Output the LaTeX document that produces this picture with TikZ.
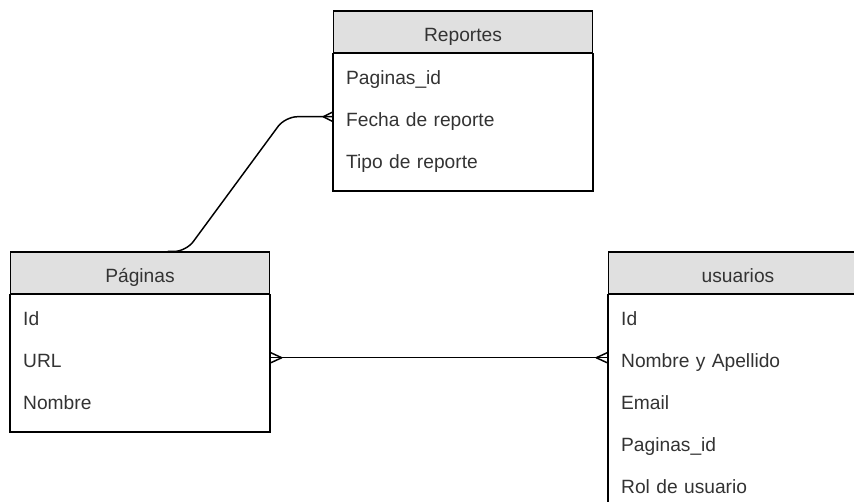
\documentclass[tikz,border=0pt]{standalone}
\usepackage{fontspec}
\setmainfont{Liberation Sans}
\usetikzlibrary{positioning,calc}

\definecolor{hdrgray}{RGB}{224,224,224}
\definecolor{txtgray}{RGB}{51,51,51}

\tikzset{
  tblfont/.style={font=\fontsize{14.4}{17}\selectfont, text=txtgray},
  tblhead/.style={tblfont, draw, fill=hdrgray, line width=1.1pt,
    minimum width=194.25pt, minimum height=31.2pt, inner sep=0pt,
    text height=14.4pt, text depth=0pt},
  tblrow/.style={tblfont, minimum width=194.25pt, minimum height=31.2pt,
    inner xsep=9.5pt, inner ysep=0pt, text width=175.25pt, align=left,
    text height=14.4pt, text depth=0pt},
  tblbody/.style={draw, line width=1.1pt},
  rel/.style={draw, line width=1.1pt, line cap=round}
}

\begin{document}
\begin{tikzpicture}[x=0.75pt, y=-0.75pt]
  \path[use as bounding box] (0,0) rectangle (854,502);
  \clip (0,0) rectangle (854,502);

  % Reportes table
  \node[tblhead] (rep) at (463,32) {Reportes};
  \node[tblrow, below=0pt of rep] (rep1) {Paginas\_id};
  \node[tblrow, below=0pt of rep1] (rep2) {Fecha de reporte};
  \node[tblrow, below=0pt of rep2] (rep3) {Tipo de reporte};
  \draw[tblbody] (rep.south west) rectangle ($(rep3.south east)+(0,11)$);

  % Paginas table
  \node[tblhead] (pag) at (140,273) {Páginas};
  \node[tblrow, below=0pt of pag] (pag1) {Id};
  \node[tblrow, below=0pt of pag1] (pag2) {URL};
  \node[tblrow, below=0pt of pag2] (pag3) {Nombre};
  \draw[tblbody] (pag.south west) rectangle ($(pag3.south east)+(0,11)$);

  % usuarios table (runs past the right and bottom edges)
  \node[tblhead] (usu) at (738,273) {usuarios};
  \node[tblrow, below=0pt of usu] (usu1) {Id};
  \node[tblrow, below=0pt of usu1] (usu2) {Nombre y Apellido};
  \node[tblrow, below=0pt of usu2] (usu3) {Email};
  \node[tblrow, below=0pt of usu3] (usu4) {Paginas\_id};
  \node[tblrow, below=0pt of usu4] (usu5) {Rol de usuario};
  \draw[tblbody] (usu.south west) rectangle ($(usu5.south east)+(0,11)$);

  % Paginas -- Reportes
  \draw[rel, rounded corners=9pt] ($(pag.north)+(28,0)$) -- ++(18,0)
    -- ($(rep2.west)+(-48,0)$) -- (rep2.west);
  \draw[rel] ($(rep2.west)+(-10,0)$) -- ($(rep2.west)+(0,-5)$)
    ($(rep2.west)+(-10,0)$) -- ($(rep2.west)+(0,5)$);

  % Paginas -- usuarios
  \draw[rel] (pag2.east) -- (usu2.west);
  \draw[rel] ($(pag2.east)+(12,0)$) -- ($(pag2.east)+(0,-5.5)$)
    ($(pag2.east)+(12,0)$) -- ($(pag2.east)+(0,5.5)$);
  \draw[rel] ($(usu2.west)+(-12,0)$) -- ($(usu2.west)+(0,-5.5)$)
    ($(usu2.west)+(-12,0)$) -- ($(usu2.west)+(0,5.5)$);
\end{tikzpicture}
\end{document}
